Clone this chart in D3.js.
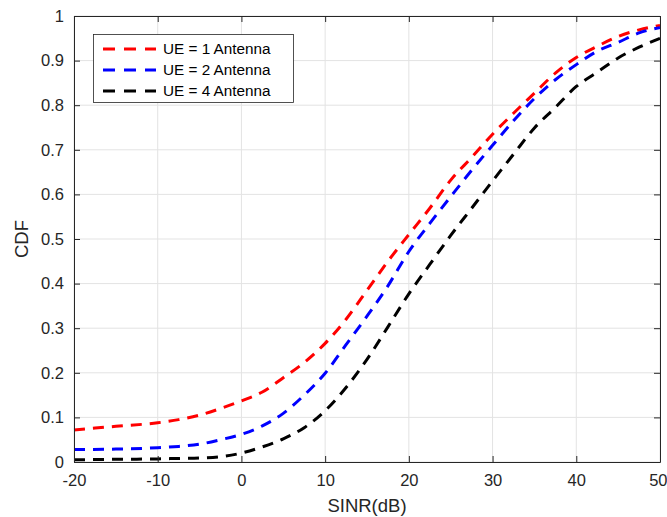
<!DOCTYPE html>
<html><head><meta charset="utf-8">
<script src="https://cdn.jsdelivr.net/npm/d3@7"></script>
<style>body{margin:0;background:#fff} svg{display:block;font-family:"Liberation Sans",Arial,Helvetica,sans-serif}</style>
</head><body><svg id="c" width="667" height="517"></svg>
<script>
const sinr = [-20,-15,-10,-7.5,-5,-2.5,0,2.5,5,7.5,10,12.5,15,17.5,20,22.5,25,27.5,30,32.5,35,37.5,40,42.5,45,47.5,50];
const ue1 = [0.072,0.080,0.088,0.095,0.105,0.120,0.137,0.157,0.189,0.223,0.266,0.320,0.385,0.450,0.510,0.569,0.632,0.683,0.735,0.782,0.827,0.872,0.907,0.932,0.954,0.969,0.979];
const ue2 = [0.028,0.029,0.032,0.035,0.040,0.050,0.062,0.081,0.109,0.150,0.199,0.263,0.327,0.395,0.472,0.535,0.595,0.654,0.710,0.765,0.815,0.857,0.891,0.921,0.941,0.962,0.974];
const ue4 = [0.005,0.006,0.007,0.008,0.009,0.012,0.020,0.034,0.052,0.077,0.115,0.167,0.230,0.303,0.377,0.443,0.508,0.569,0.630,0.690,0.749,0.795,0.842,0.874,0.906,0.930,0.950];
const seriesNames = ["UE = 1 Antenna","UE = 2 Antenna","UE = 4 Antenna"];
const seriesColors = ["#ff0000","#0000ff","#000000"];
const xTicks = [-20,-10,0,10,20,30,40,50];
const xTickLabels = ["-20","-10","0","10","20","30","40","50"];
const yTicks = [0,0.1,0.2,0.3,0.4,0.5,0.6,0.7,0.8,0.9,1];
const yTickLabels = ["0","0.1","0.2","0.3","0.4","0.5","0.6","0.7","0.8","0.9","1"];
const xLabel = "SINR(dB)";
const yLabel = "CDF";

const svg = d3.select("#c");
const m = {l:74, t:16, w:586, h:446};
const axisColor = "#262626";
const tickFs = "16.5px";
const legendFs = "15.3px";
const labelFs = "18.5px";
const x = d3.scaleLinear().domain([-20,50]).range([m.l, m.l+m.w]);
const y = d3.scaleLinear().domain([0,1]).range([m.t+m.h, m.t]);

// grid
const g = svg.append("g");
g.selectAll(".vg").data(xTicks).join("line")
  .attr("x1", d=>x(d)).attr("x2", d=>x(d)).attr("y1", m.t).attr("y2", m.t+m.h)
  .attr("stroke", "#e3e3e3").attr("stroke-width", 1);
g.selectAll(".hg").data(yTicks).join("line")
  .attr("x1", m.l).attr("x2", m.l+m.w).attr("y1", d=>y(d)).attr("y2", d=>y(d))
  .attr("stroke", "#e3e3e3").attr("stroke-width", 1);

// curves
const series = [ue1, ue2, ue4];
const line = d3.line().x(d=>x(d[0])).y(d=>y(d[1])).curve(d3.curveMonotoneX);
series.forEach((vals, i) => {
  svg.append("path")
    .datum(sinr.map((s, j) => [s, vals[j]]))
    .attr("d", line).attr("fill", "none")
    .attr("stroke", seriesColors[i]).attr("stroke-width", 3)
    .attr("stroke-dasharray", "11,8");
});

// axes
function styleAxis(sel){
  sel.selectAll("path").attr("stroke", axisColor).attr("stroke-width", 1);
  sel.selectAll("line").attr("stroke", axisColor).attr("stroke-width", 1);
  sel.selectAll("text").attr("fill", axisColor).style("font-size", tickFs).style("font-family", '"Liberation Sans",Arial,sans-serif');
}
const xb = svg.append("g").attr("transform", `translate(0,${m.t+m.h})`)
  .call(d3.axisBottom(x).tickValues(xTicks).tickSizeInner(-6).tickSizeOuter(0).tickPadding(12).tickFormat((d,i)=>xTickLabels[i]))
  .call(styleAxis);
// keep the last label inside the canvas (the reference shows it flush with the edge)
xb.selectAll(".tick text").filter((d,i)=>i===xTicks.length-1).attr("text-anchor","end").attr("x", 7);
svg.append("g").attr("transform", `translate(0,${m.t})`)
  .call(d3.axisTop(x).tickValues(xTicks).tickSizeInner(-6).tickSizeOuter(0).tickFormat(""))
  .call(styleAxis);
svg.append("g").attr("transform", `translate(${m.l},0)`)
  .call(d3.axisLeft(y).tickValues(yTicks).tickSizeInner(-6).tickSizeOuter(0).tickPadding(10).tickFormat((d,i)=>yTickLabels[i]))
  .call(styleAxis);
svg.append("g").attr("transform", `translate(${m.l+m.w},0)`)
  .call(d3.axisRight(y).tickValues(yTicks).tickSizeInner(-6).tickSizeOuter(0).tickFormat(""))
  .call(styleAxis);

// labels
svg.append("text").attr("x", m.l+m.w/2).attr("y", 512).attr("text-anchor", "middle")
  .attr("fill", axisColor).style("font-size", labelFs).text(xLabel);
svg.append("text").attr("transform", `translate(28,${m.t+m.h/2}) rotate(-90)`).attr("text-anchor", "middle")
  .attr("fill", axisColor).style("font-size", labelFs).text(yLabel);

// legend
const lg = svg.append("g");
lg.append("rect").attr("x", 93.5).attr("y", 34.5).attr("width", 200).attr("height", 68)
  .attr("fill", "#fff").attr("stroke", axisColor).attr("stroke-width", 0.8);
const ly = [49, 70, 91];
seriesNames.forEach((nm, i) => {
  lg.append("line").attr("x1", 103).attr("x2", 156).attr("y1", ly[i]).attr("y2", ly[i])
    .attr("stroke", seriesColors[i]).attr("stroke-width", 3).attr("stroke-dasharray", "12,9");
  lg.append("text").attr("x", 163).attr("y", ly[i]).attr("dy", "0.35em")
    .attr("fill", "#000").style("font-size", legendFs).text(nm);
});
</script></body></html>
